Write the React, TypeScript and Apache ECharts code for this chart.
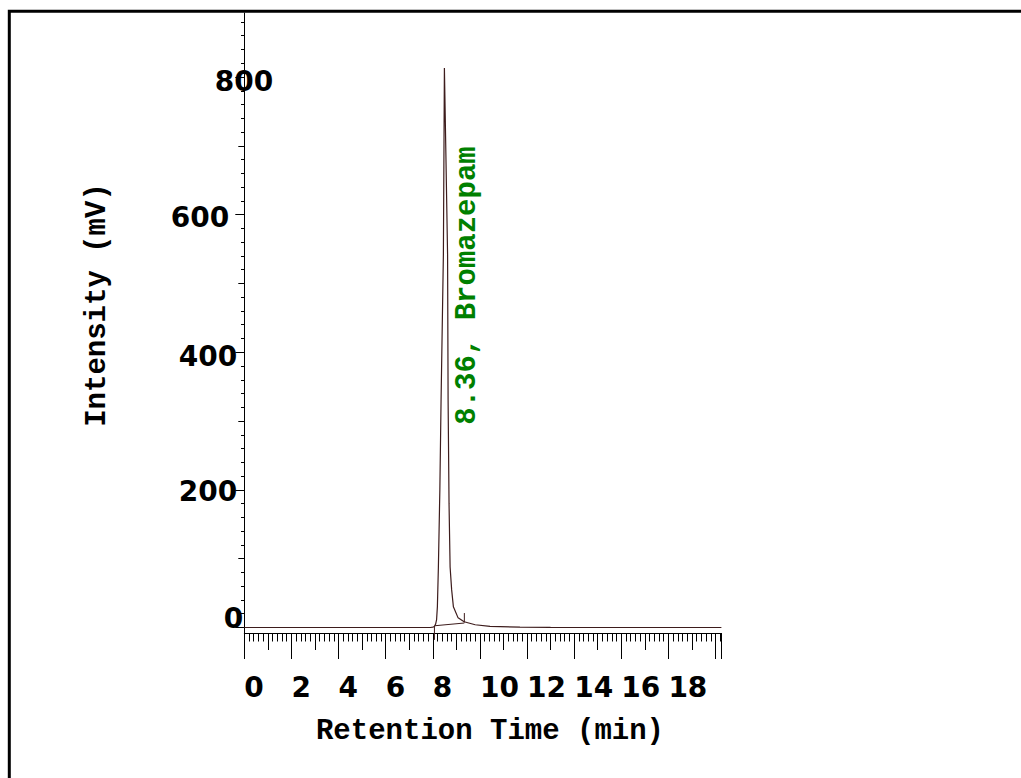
import React, { useEffect, useRef } from "react";
import * as echarts from "echarts";

// ---- data ----
const timeMin = [0, 7.9, 8.0, 8.07, 8.12, 8.16, 8.195, 8.238, 8.3, 8.352, 8.45, 8.493, 8.56, 8.628, 8.65, 8.69, 8.735, 8.8, 8.875, 9.074, 9.33, 9.8, 10.43, 11.7, 13.0, 20.25];
const intensity = [0, 0, 0.5, 1.5, 5, 11, 30, 88, 200, 331, 542, 813, 680, 542, 331, 180, 88, 55, 30, 14, 8.3, 4, 1.7, 0.6, 0.3, 0];
const integBaseT = [8.07, 9.34];
const integBaseV = [2.5, 6.5];
const markerStartV = [1.5, -18];
const markerEndV = [7.3, 21];
const xTickLabels = [0, 2, 4, 6, 8, 10, 12, 14, 16, 18];
const yTickLabels = [0, 200, 400, 600, 800];
const yMajorTicks = [0, 200, 400, 600, 800];
const yMidTicks = [100, 300, 500, 700];
const yMinorTicks = [20, 40, 60, 80, 120, 140, 160, 180, 220, 240, 260, 280, 320, 340, 360, 380, 420, 440, 460, 480, 520, 540, 560, 580, 620, 640, 660, 680, 720, 740, 760, 780, 820, 840, 860, 880];
const peakLabel = "8.36, Bromazepam";
const xTitle = "Retention Time (min)";
const yTitle = "Intensity (mV)";
const X_MIN = 0;
const X_MAX = 20.25;
const Y_MIN = -8;
const Y_MAX = 893;

const MONO = "'Liberation Mono', 'Courier New', monospace";
const SANS = "'DejaVu Sans', sans-serif";
const LINE_COLOR = "#3d1c1c";

export default function App() {
  const ref = useRef<HTMLDivElement>(null);
  useEffect(() => {
    if (!ref.current) return;
    const chart = echarts.init(ref.current, null, { renderer: "svg" });
    const lbl = { fontFamily: SANS, fontWeight: "bold" as const, fontSize: 28, color: "#000" };
    const xBase = (length: number, interval: number, showLine: boolean, labels: boolean) => ({
      type: "value",
      position: "bottom",
      min: X_MIN,
      max: X_MAX,
      interval,
      axisLine: { show: showLine, onZero: false, lineStyle: { color: "#000", width: 1 } },
      axisTick: { show: true, length, lineStyle: { color: "#000", width: 1 } },
      axisLabel: labels
        ? { show: true, customValues: xTickLabels, align: "left", margin: 40, ...lbl }
        : { show: false },
      splitLine: { show: false },
    });
    const yBase = (length: number, ticks: number[], showLine: boolean) => ({
      type: "value",
      position: "left",
      min: Y_MIN,
      max: Y_MAX,
      axisLine: { show: showLine, onZero: false, lineStyle: { color: "#000", width: 1 } },
      axisTick: { show: true, length, customValues: ticks, lineStyle: { color: "#000", width: 1 } },
      axisLabel: { show: false },
      splitLine: { show: false },
    });
    const y0: any = yBase(9, yMajorTicks, true);
    y0.axisLabel = {
      show: true,
      customValues: yTickLabels,
      margin: -29,
      ...lbl,
      formatter: (v: number) => `{l${v}|${v}}`,
      rich: {
        l800: { ...lbl, padding: [9, 0, 0, 0] },
        l600: { ...lbl, padding: [6, 44, 0, 0] },
        l400: { ...lbl, padding: [9, 36, 0, 0] },
        l200: { ...lbl, padding: [4, 36, 0, 0] },
        l0: { ...lbl, padding: [0, 30, 18, 0] },
      },
    };
    const lineData = timeMin.map((t, i) => [t, intensity[i]]);
    const option: any = {
      animation: false,
      backgroundColor: "#fff",
      grid: { left: 244.3, top: 13, right: 299.6, bottom: 145, containLabel: false, outerBoundsMode: "none" },
      xAxis: [
        xBase(26, 2, true, true),
        xBase(17, 1, false, false),
        xBase(8.5, 0.2, false, false),
      ],
      yAxis: [y0, yBase(6, yMidTicks, false), yBase(3.3, yMinorTicks, false)],
      series: [
        {
          type: "line",
          data: lineData,
          symbol: "none",
          lineStyle: { color: LINE_COLOR, width: 1.2 },
          clip: false,
        },
        {
          type: "line",
          data: integBaseT.map((t, i) => [t, integBaseV[i]]),
          symbol: "none",
          lineStyle: { color: LINE_COLOR, width: 1 },
          clip: false,
        },
        {
          type: "line",
          data: [[integBaseT[0], markerStartV[0]], [integBaseT[0], markerStartV[1]]],
          symbol: "none",
          lineStyle: { color: LINE_COLOR, width: 1 },
          clip: false,
        },
        {
          type: "line",
          data: [[integBaseT[1], markerEndV[0]], [integBaseT[1], markerEndV[1]]],
          symbol: "none",
          lineStyle: { color: LINE_COLOR, width: 1 },
          clip: false,
        },
      ],
      graphic: [
        {
          type: "rect",
          shape: { x: 9.3, y: 11.3, width: 1200, height: 1000 },
          style: { fill: "none", stroke: "#000", lineWidth: 3 },
          silent: true,
        },
        {
          type: "text",
          x: 490,
          y: 731,
          style: { text: xTitle, font: `bold 29px ${MONO}`, fill: "#000", align: "center", verticalAlign: "middle" },
        },
        {
          type: "text",
          x: 97,
          y: 305,
          rotation: Math.PI / 2,
          style: { text: yTitle, font: `bold 29px ${MONO}`, fill: "#000", align: "center", verticalAlign: "middle" },
        },
        {
          type: "text",
          x: 467,
          y: 285.5,
          rotation: Math.PI / 2,
          style: { text: peakLabel, font: `bold 29px ${MONO}`, fill: "#008000", align: "center", verticalAlign: "middle" },
        },
      ],
    };
    chart.setOption(option);
    return () => chart.dispose();
  }, []);
  return (
    <div
      ref={ref}
      style={{ position: "fixed", left: 0, top: 0, width: 1021, height: 778, background: "#fff" }}
    />
  );
}
